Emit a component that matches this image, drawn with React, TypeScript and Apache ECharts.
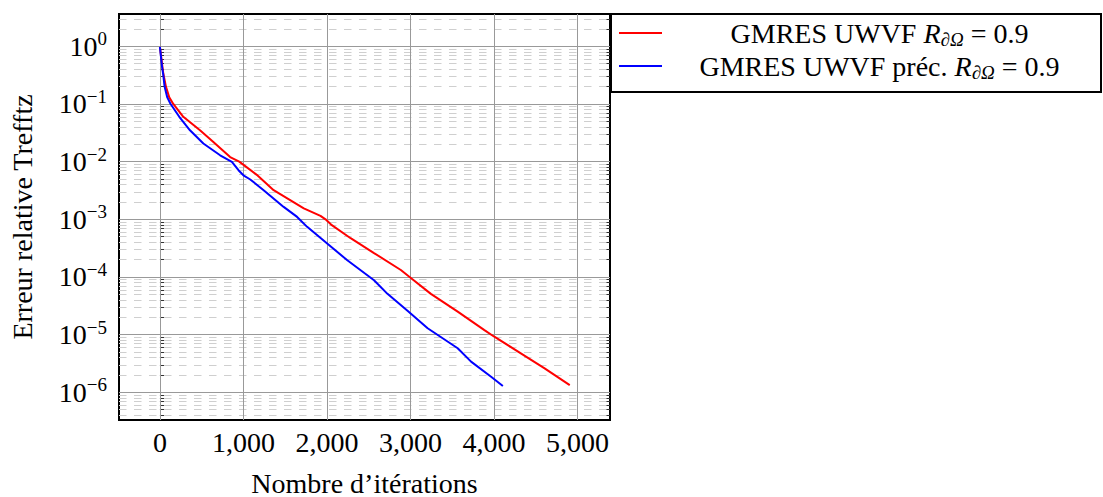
import React, { useEffect, useRef } from "react";
import * as echarts from "echarts";

// ---- data ----
const RED_NAME = "GMRES UWVF R∂Ω = 0.9";
const BLUE_NAME = "GMRES UWVF préc. R∂Ω = 0.9";

const RED_ITER = [0, 25, 40, 72, 112, 160, 280, 480, 640, 841, 950, 1160, 1362, 1550, 1723, 1923, 1983, 2050, 2284, 2564, 2885, 2990, 3245, 3566, 3886, 4000, 4327, 4607, 4908];
const RED_ERR = [0.98, 0.5, 0.34, 0.2, 0.13, 0.1, 0.06, 0.035, 0.022, 0.012, 0.01, 5.9e-3, 3.2e-3, 2.2e-3, 1.55e-3, 1.15e-3, 1.0e-3, 8.1e-4, 4.7e-4, 2.6e-4, 1.32e-4, 1.0e-4, 5.1e-5, 2.5e-5, 1.2e-5, 9.3e-6, 4.7e-6, 2.6e-6, 1.33e-6];

const BLUE_ITER = [0, 25, 40, 56, 88, 128, 232, 360, 520, 721, 862, 941, 1000, 1082, 1242, 1482, 1643, 1763, 2003, 2244, 2564, 2725, 2965, 3206, 3566, 3726, 3966, 4107];
const BLUE_ERR = [0.98, 0.45, 0.32, 0.2, 0.13, 0.1, 0.06, 0.035, 0.0206, 0.0129, 0.0099, 0.0071, 0.0058, 0.0049, 0.0032, 1.64e-3, 1.1e-3, 7.4e-4, 3.8e-4, 1.95e-4, 8.8e-5, 5.1e-5, 2.6e-5, 1.29e-5, 5.8e-6, 3.4e-6, 1.86e-6, 1.29e-6];

const X_TICKS = [0, 1000, 2000, 3000, 4000, 5000];
const Y_TICKS = [1e-6, 1e-5, 1e-4, 1e-3, 1e-2, 1e-1, 1];

const X_MIN = -490;
const X_MAX = 5390;
const Y_MIN = Math.pow(10, -6.48);
const Y_MAX = Math.pow(10, 0.56);

// minor decade subdivisions (2..9 × 10^n) inside the axis range
const Y_MINOR: number[] = [];
for (let n = -7; n <= 0; n++) {
  for (let k = 2; k <= 9; k++) {
    const v = Number((k * Math.pow(10, n)).toPrecision(3));
    if (v > Y_MIN && v < Y_MAX) Y_MINOR.push(v);
  }
}

const FONT = "'Liberation Serif', 'DejaVu Serif', serif";
const FS = 28;

const legendRich = {
  t: { fontSize: FS, fontFamily: FONT, color: "#000", lineHeight: 32, align: "center" },
  i: { fontSize: FS, fontFamily: FONT, fontStyle: "italic", color: "#000", lineHeight: 32, align: "center" },
  sub: { fontSize: 19, fontFamily: FONT, fontStyle: "italic", color: "#000", lineHeight: 19, verticalAlign: "bottom", align: "center" },
};

function legendFormatter(name: string) {
  const pre = name.replace(" R∂Ω = 0.9", "");
  return `{t|${pre} }{i|R}{sub|∂Ω}{t| = 0.9}`;
}

function yLabel(v: number) {
  const e = Math.round(Math.log10(v));
  const s = e < 0 ? "−" + -e : String(e);
  return `{b|10}{s|${s}}`;
}

const tickStyle = { color: "#333", width: 1 };

export default function App() {
  const ref = useRef<HTMLDivElement>(null);
  useEffect(() => {
    if (!ref.current) return;
    const chart = echarts.init(ref.current, undefined, { renderer: "svg" });

    const gridLines: any[] = [
      ...Y_MINOR.map((v) => ({ yAxis: v, lineStyle: { color: "#cfcfcf", width: 1, type: [7.5, 7.5] } })),
      ...Y_TICKS.map((v) => ({ yAxis: v, lineStyle: { color: "#999", width: 1, type: "solid" } })),
      ...X_TICKS.map((v) => ({ xAxis: v, lineStyle: { color: "#999", width: 1, type: "solid" } })),
    ];

    const option: any = {
      animation: false,
      textStyle: { fontFamily: FONT },
      grid: {
        left: 119,
        top: 14,
        width: 491,
        height: 406,
        show: true,
        borderColor: "#000",
        borderWidth: 2,
        backgroundColor: "transparent",
        containLabel: false,
        outerBoundsMode: "none",
      },
      graphic: [
        {
          type: "rect",
          left: 610,
          top: 13,
          shape: { width: 490, height: 78 },
          style: { fill: "#fff", stroke: "#000", lineWidth: 2 },
          z: 0,
        },
      ],
      legend: {
        data: [RED_NAME, BLUE_NAME],
        orient: "vertical",
        left: 619,
        top: 19,
        padding: 0,
        itemGap: 3,
        itemWidth: 43,
        itemHeight: 2,
        icon: "rect",
        z: 10,
        formatter: legendFormatter,
        textStyle: { width: 425, color: "#000", fontSize: FS, fontFamily: FONT, rich: legendRich },
      },
      xAxis: [
        {
          type: "value",
          min: X_MIN,
          max: X_MAX,
          position: "bottom",
          name: "Nombre d’itérations",
          nameLocation: "middle",
          nameGap: 49,
          nameTextStyle: { fontSize: FS, color: "#000", fontFamily: FONT },
          axisLine: { show: false },
          axisTick: { show: true, inside: true, length: 6, customValues: X_TICKS, lineStyle: tickStyle },
          axisLabel: {
            customValues: X_TICKS,
            margin: 8,
            fontSize: FS,
            color: "#000",
            fontFamily: FONT,
            formatter: (v: number) => v.toLocaleString("en-US"),
          },
          splitLine: { show: false },
        },
        {
          type: "value",
          min: X_MIN,
          max: X_MAX,
          position: "top",
          axisLine: { show: false },
          axisTick: { show: true, inside: true, length: 6, customValues: X_TICKS, lineStyle: tickStyle },
          axisLabel: { show: false },
          splitLine: { show: false },
        },
      ],
      yAxis: [
        {
          type: "log",
          logBase: 10,
          min: Y_MIN,
          max: Y_MAX,
          position: "left",
          name: "Erreur relative Trefftz",
          nameLocation: "middle",
          nameGap: 83,
          nameTextStyle: { fontSize: FS, color: "#000", fontFamily: FONT },
          axisLine: { show: false },
          axisTick: { show: true, inside: true, length: 8, customValues: Y_TICKS, lineStyle: tickStyle },
          axisLabel: {
            customValues: Y_TICKS,
            margin: 12,
            formatter: yLabel,
            rich: {
              b: { fontSize: FS, fontFamily: FONT, color: "#000", lineHeight: 34 },
              s: { fontSize: 19, fontFamily: FONT, color: "#000", lineHeight: 19, verticalAlign: "top" },
            },
          },
          splitLine: { show: false },
        },
        {
          type: "log",
          logBase: 10,
          min: Y_MIN,
          max: Y_MAX,
          position: "left",
          axisLine: { show: false },
          axisTick: { show: true, inside: true, length: 5, customValues: Y_MINOR, lineStyle: tickStyle },
          axisLabel: { show: false },
          splitLine: { show: false },
        },
        {
          type: "log",
          logBase: 10,
          min: Y_MIN,
          max: Y_MAX,
          position: "right",
          axisLine: { show: false },
          axisTick: { show: true, inside: true, length: 8, customValues: Y_TICKS, lineStyle: tickStyle },
          axisLabel: { show: false },
          splitLine: { show: false },
        },
        {
          type: "log",
          logBase: 10,
          min: Y_MIN,
          max: Y_MAX,
          position: "right",
          axisLine: { show: false },
          axisTick: { show: true, inside: true, length: 5, customValues: Y_MINOR, lineStyle: tickStyle },
          axisLabel: { show: false },
          splitLine: { show: false },
        },
      ],
      series: [
        {
          type: "line",
          name: "grid",
          data: [],
          z: 1,
          silent: true,
          markLine: {
            silent: true,
            z: 1,
            precision: 12,
            symbol: ["none", "none"],
            label: { show: false },
            emphasis: { disabled: true },
            data: gridLines,
          },
        },
        {
          type: "line",
          name: RED_NAME,
          data: RED_ITER.map((x, i) => [x, RED_ERR[i]]),
          symbol: "none",
          lineStyle: { color: "#ff0000", width: 2 },
          itemStyle: { color: "#ff0000" },
          z: 6,
        },
        {
          type: "line",
          name: BLUE_NAME,
          data: BLUE_ITER.map((x, i) => [x, BLUE_ERR[i]]),
          symbol: "none",
          lineStyle: { color: "#0000ff", width: 2 },
          itemStyle: { color: "#0000ff" },
          z: 7,
        },
      ],
    };
    chart.setOption(option);
    return () => chart.dispose();
  }, []);

  return (
    <div
      ref={ref}
      style={{ position: "absolute", left: 0, top: 0, width: 1103, height: 497, background: "#fff" }}
    />
  );
}
